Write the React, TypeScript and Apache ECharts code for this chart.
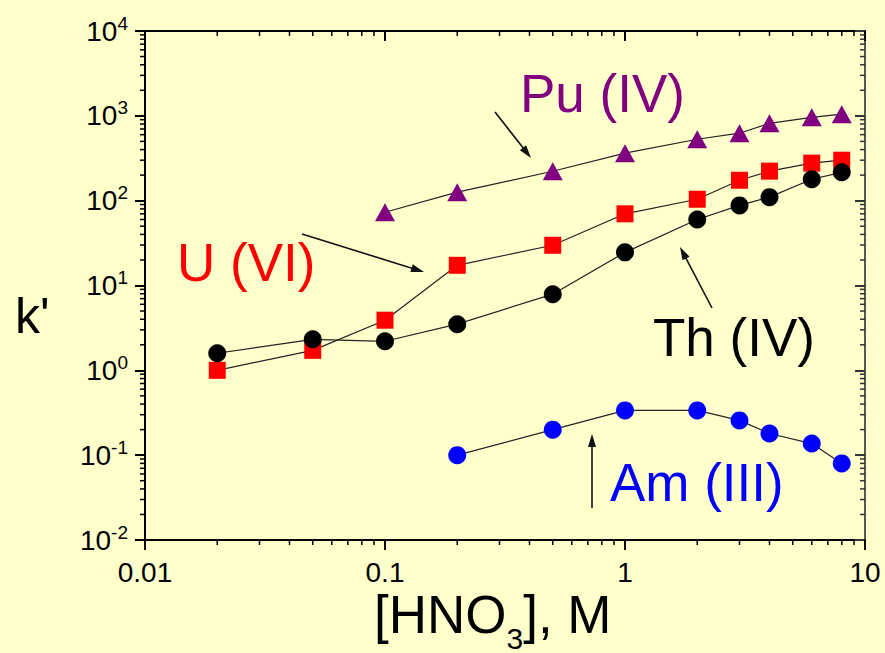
import React, { useEffect, useRef } from 'react';
import * as echarts from 'echarts';

// ---- data ----
const xValues = [0.02, 0.05, 0.1, 0.2, 0.5, 1, 2, 3, 4, 6, 8];
const puX = [0.1, 0.2, 0.5, 1, 2, 3, 4, 6, 8];
const puValues = [73, 126, 222, 363, 530, 624, 815, 960, 1045];
const uValues = [1.0, 1.72, 3.9, 17.3, 29.8, 70, 104, 174, 223, 277, 300];
const thValues = [1.59, 2.32, 2.2, 3.5, 7.9, 24.6, 60, 88, 110, 179, 216];
const amX = [0.2, 0.5, 1, 2, 3, 4, 6, 8];
const amValues = [0.1, 0.2, 0.337, 0.337, 0.257, 0.18, 0.137, 0.08];

const xMin = 0.01;
const xMax = 10;
const yMin = 0.01;
const yMax = 10000;
const xTickLabels = ['0.01', '0.1', '1', '10'];
const yTickExponents = ['-2', '-1', '0', '1', '2', '3', '4'];
const minorMultipliers = [2, 3, 4, 5, 6, 7, 8, 9];
const xDecades = [0.01, 0.1, 1];
const yDecades = [0.01, 0.1, 1, 10, 100, 1000];

const FONT = '"Liberation Sans", Arial, Helvetica, sans-serif';

function exponentOf(v: number) {
  return Math.round(Math.log10(v));
}

function arrow(x1: number, y1: number, x2: number, y2: number) {
  const len = 13;
  const half = 4;
  const dx = x2 - x1;
  const dy = y2 - y1;
  const d = Math.sqrt(dx * dx + dy * dy);
  const ux = dx / d;
  const uy = dy / d;
  const bx = x2 - ux * len;
  const by = y2 - uy * len;
  return [
    {
      type: 'line',
      shape: { x1, y1, x2: bx + ux * 2, y2: by + uy * 2 },
      style: { stroke: '#111', lineWidth: 1.6 },
      silent: true,
    },
    {
      type: 'polygon',
      shape: {
        points: [
          [x2, y2],
          [bx - uy * half, by + ux * half],
          [bx + uy * half, by - ux * half],
        ],
      },
      style: { fill: '#111' },
      silent: true,
    },
  ];
}

export default function App() {
  const ref = useRef<HTMLDivElement>(null);

  useEffect(() => {
    document.body.style.margin = '0';
    if (!ref.current) return;
    const chart = echarts.init(ref.current, undefined, { renderer: 'svg' });

    const minorX: number[][] = [];
    xDecades.forEach((d) => minorMultipliers.forEach((m) => minorX.push([d * m, yMin, 0])));
    const minorY: number[][] = [];
    yDecades.forEach((d) => minorMultipliers.forEach((m) => minorY.push([xMin, d * m, 1])));

    const lineStyle = { color: '#222', width: 1.2 };

    const option: any = {
      animation: false,
      backgroundColor: '#FFFFCC',
      grid: { left: 145, top: 31, width: 720, height: 509, containLabel: false },
      xAxis: [
        {
          type: 'log',
          logBase: 10,
          min: xMin,
          max: xMax,
          interval: 1,
          position: 'bottom',
          axisLine: { show: true, lineStyle: { color: '#000', width: 2 } },
          axisTick: { show: true, length: 10, lineStyle: { color: '#000', width: 2 } },
          splitLine: { show: false },
          axisLabel: {
            color: '#000',
            fontSize: 28,
            lineHeight: 28,
            fontFamily: FONT,
            margin: 18,
            formatter: (v: number) => {
              const e = exponentOf(v);
              return xTickLabels[e + 2];
            },
          },
        },
        {
          type: 'log',
          logBase: 10,
          min: xMin,
          max: xMax,
          interval: 1,
          position: 'top',
          axisLine: { show: true, lineStyle: { color: '#000', width: 2 } },
          axisTick: { show: true, inside: true, length: 10, lineStyle: { color: '#000', width: 2 } },
          splitLine: { show: false },
          axisLabel: { show: false },
        },
      ],
      yAxis: [
        {
          type: 'log',
          logBase: 10,
          min: yMin,
          max: yMax,
          interval: 1,
          position: 'left',
          axisLine: { show: true, lineStyle: { color: '#000', width: 2 } },
          axisTick: { show: true, length: 10, lineStyle: { color: '#000', width: 2 } },
          splitLine: { show: false },
          axisLabel: {
            margin: 17,
            formatter: (v: number) => {
              const e = exponentOf(v);
              return `{b|10}{s|${yTickExponents[e + 2]}}`;
            },
            rich: {
              b: { fontSize: 28, lineHeight: 28, fontFamily: FONT, color: '#000' },
              s: { fontSize: 19, lineHeight: 19, fontFamily: FONT, color: '#000', padding: [0, 0, 16, 0] },
            },
          },
        },
        {
          type: 'log',
          logBase: 10,
          min: yMin,
          max: yMax,
          interval: 1,
          position: 'right',
          axisLine: { show: true, lineStyle: { color: '#555', width: 2 } },
          axisTick: { show: true, inside: true, length: 10, lineStyle: { color: '#333', width: 2 } },
          splitLine: { show: false },
          axisLabel: { show: false },
        },
      ],
      series: [
        {
          type: 'custom',
          silent: true,
          clip: false,
          xAxisIndex: 0,
          yAxisIndex: 0,
          data: [...minorX, ...minorY],
          encode: { x: 0, y: 1 },
          z: 1,
          renderItem: (params: any, api: any) => {
            const cs = params.coordSys;
            const t = api.value(2);
            const pt = api.coord([api.value(0), api.value(1)]);
            const st = { stroke: '#000', lineWidth: 1.5 };
            if (t === 0) {
              const bottom = cs.y + cs.height;
              return {
                type: 'group',
                children: [
                  { type: 'line', shape: { x1: pt[0], y1: bottom, x2: pt[0], y2: bottom + 5 }, style: st },
                  { type: 'line', shape: { x1: pt[0], y1: cs.y, x2: pt[0], y2: cs.y + 5 }, style: st },
                ],
              };
            }
            const right = cs.x + cs.width;
            return {
              type: 'group',
              children: [
                { type: 'line', shape: { x1: cs.x - 5, y1: pt[1], x2: cs.x, y2: pt[1] }, style: st },
                { type: 'line', shape: { x1: right - 5, y1: pt[1], x2: right, y2: pt[1] }, style: { stroke: '#333', lineWidth: 1.5 } },
              ],
            };
          },
        },
        {
          name: 'Pu (IV)',
          type: 'line',
          data: puX.map((x, i) => [x, puValues[i]]),
          symbol: 'triangle',
          symbolSize: [20, 18],
          itemStyle: { color: '#800080' },
          lineStyle,
          emphasis: { disabled: true },
          z: 3,
        },
        {
          name: 'U (VI)',
          type: 'line',
          data: xValues.map((x, i) => [x, uValues[i]]),
          symbol: 'rect',
          symbolSize: 17,
          itemStyle: { color: '#FF0000' },
          lineStyle,
          emphasis: { disabled: true },
          z: 3,
        },
        {
          name: 'Th (IV)',
          type: 'line',
          data: xValues.map((x, i) => [x, thValues[i]]),
          symbol: 'circle',
          symbolSize: 18,
          itemStyle: { color: '#000000' },
          lineStyle,
          emphasis: { disabled: true },
          z: 4,
        },
        {
          name: 'Am (III)',
          type: 'line',
          data: amX.map((x, i) => [x, amValues[i]]),
          symbol: 'circle',
          symbolSize: 18,
          itemStyle: { color: '#0000FF' },
          lineStyle,
          emphasis: { disabled: true },
          z: 3,
        },
      ],
      graphic: [
        {
          type: 'text',
          x: 520,
          y: 93,
          style: { text: 'Pu (IV)', fill: '#800080', fontSize: 53, fontFamily: FONT, align: 'left', verticalAlign: 'middle' },
          silent: true,
        },
        {
          type: 'text',
          x: 177,
          y: 262,
          style: { text: 'U (VI)', fill: '#FF0000', fontSize: 53, fontFamily: FONT, align: 'left', verticalAlign: 'middle' },
          silent: true,
        },
        {
          type: 'text',
          x: 653,
          y: 337,
          style: { text: 'Th (IV)', fill: '#000000', fontSize: 53, fontFamily: FONT, align: 'left', verticalAlign: 'middle' },
          silent: true,
        },
        {
          type: 'text',
          x: 610,
          y: 482,
          style: { text: 'Am (III)', fill: '#0000FF', fontSize: 53, fontFamily: FONT, align: 'left', verticalAlign: 'middle' },
          silent: true,
        },
        {
          type: 'text',
          x: 15,
          y: 316,
          style: { text: "k'", fill: '#000', fontSize: 50, fontFamily: FONT, align: 'left', verticalAlign: 'middle' },
          silent: true,
        },
        {
          type: 'text',
          x: 374,
          y: 614,
          style: {
            text: '{a|[HNO}{s|3}{a|], M}',
            align: 'left',
            verticalAlign: 'middle',
            rich: {
              a: { fontSize: 53, lineHeight: 53, fontFamily: FONT, fill: '#000', color: '#000' },
              s: { fontSize: 30, lineHeight: 30, fontFamily: FONT, fill: '#000', color: '#000', padding: [48, 0, 0, 0] },
            },
          },
          silent: true,
        },
        ...arrow(495, 112, 531, 158),
        ...arrow(302, 234, 424, 272),
        ...arrow(712, 308, 680, 247),
        ...arrow(592, 508, 592, 434),
      ],
    };

    chart.setOption(option);
    return () => chart.dispose();
  }, []);

  return <div ref={ref} style={{ width: 885, height: 653 }} />;
}
